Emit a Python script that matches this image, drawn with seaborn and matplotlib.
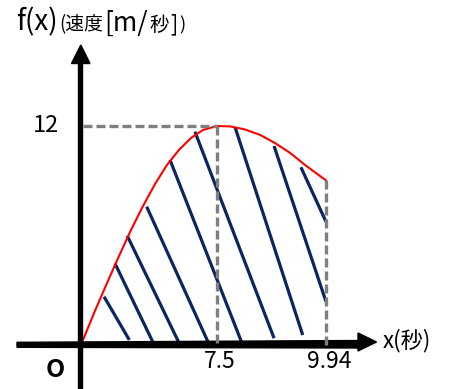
import numpy as np
import pandas as pd
import matplotlib
matplotlib.use("Agg")
import matplotlib.pyplot as plt
import seaborn as sns
from matplotlib.offsetbox import TextArea, HPacker, AnnotationBbox
from matplotlib.patches import Polygon
from matplotlib.lines import Line2D
from matplotlib.transforms import Affine2D

# ---------------- data ----------------
X_CURVE = [0, 0.67, 1.35, 2.02, 2.69, 3.37, 4.04, 4.71, 5.38, 6.06, 6.73, 7.5,
           7.80, 8.13, 8.47, 8.80, 9.14, 9.47, 9.94]
Y_CURVE = [0, 1.63, 3.20, 4.71, 6.17, 7.52, 8.75, 9.82, 10.66, 11.33, 11.78, 12.0,
           11.98, 11.81, 11.50, 11.05, 10.49, 9.82, 8.95]

HATCH_TOP_X = [1.18, 1.79, 2.48, 3.57, 4.88, 6.28, 7.91, 8.78, 9.38]
HATCH_TOP_Y = [2.43, 4.30, 5.85, 7.48, 10.1, 11.68, 11.93, 10.88, 9.69]
HATCH_BOT_X = [2.60, 3.91, 5.38, 7.03, 8.06, 8.78, 9.42, 9.94, 9.94]
HATCH_BOT_Y = [0.0, -0.1, -0.15, -0.15, -0.15, 0.1, 0.28, 2.15, 6.63]

PEAK_X, PEAK_Y = 7.5, 12
END_X, END_Y = 9.94, 8.95
X_TICKS = [7.5, 9.94]
X_TICK_LABELS = ["7.5", "9.94"]
Y_TICKS = [12]
Y_TICK_LABELS = ["12"]

# ---------------- style ----------------
sns.set_theme(style="white")
FONT = ["Noto Sans CJK JP", "DejaVu Sans"]
plt.rcParams["font.family"] = FONT

W, H, DPI = 450, 389, 100
fig = plt.figure(figsize=(W / DPI, H / DPI), dpi=DPI)
fig.patch.set_facecolor("white")
ax = fig.add_axes([0, 0, 1, 1])
ax.set_axis_off()

STRETCH = 2.512  # schematic (non-proportional) x axis beyond the peak


def fwd(x):
    x = np.asarray(x, float)
    return np.where(x <= PEAK_X, x, PEAK_X + (x - PEAK_X) * STRETCH)


def inv(s):
    s = np.asarray(s, float)
    return np.where(s <= PEAK_X, s, PEAK_X + (s - PEAK_X) / STRETCH)


ax.set_xscale("function", functions=(fwd, inv))

NAVY = "#0b2560"
GRAY = "#7f7f7f"

# hatch lines
seg_rows = []
for i, (x1, y1, x2, y2) in enumerate(zip(HATCH_TOP_X, HATCH_TOP_Y, HATCH_BOT_X, HATCH_BOT_Y)):
    seg_rows.append({"x": x1, "y": y1, "seg": i})
    seg_rows.append({"x": x2, "y": y2, "seg": i})
seg_df = pd.DataFrame(seg_rows)
sns.lineplot(data=seg_df, x="x", y="y", units="seg", estimator=None, color=NAVY,
             lw=2.3, ax=ax, zorder=3, solid_capstyle="butt", legend=False)

# curve
curve_df = pd.DataFrame({"x": X_CURVE, "y": Y_CURVE})
sns.lineplot(data=curve_df, x="x", y="y", color="#ff0000", lw=1.5, ax=ax, zorder=4,
             sort=False, legend=False)

# dashed guides
dash_kw = dict(color=GRAY, lw=2.4, dashes=(2.7, 1.2), zorder=6, solid_capstyle="butt",
               dash_capstyle="butt")
ax.plot([0, PEAK_X], [PEAK_Y, PEAK_Y], **dash_kw)
ax.plot([PEAK_X, PEAK_X], [PEAK_Y, -0.2], **dash_kw)
ax.plot([END_X, END_X], [END_Y, -0.5], **dash_kw)

UNIT = 17.83  # pixels per data unit
X0_PX, Y0_PX = 83, 340
ax.set_xlim(float(inv(-X0_PX / UNIT)), float(inv((W - X0_PX) / UNIT)))
ax.set_ylim(-(H - Y0_PX) / UNIT, Y0_PX / UNIT)

# axes arrows, drawn in image pixel coordinates
pix = Affine2D().scale(1, -1).translate(0, H)
ax.add_line(Line2D([80.3, 80.3], [H + 2, 62], lw=5.4 * 72 / DPI, color="black",
                   transform=pix, zorder=5, solid_capstyle="butt", clip_on=False))
ax.add_patch(Polygon([(71.5, 63.5), (90, 63.5), (80.8, 45)], closed=True, color="black",
                     transform=pix, zorder=5, clip_on=False))
ax.add_patch(Polygon([(17, 342.3), (359, 340.5), (359, 348), (17, 347.3)], closed=True,
                     color="black", transform=pix, zorder=5, clip_on=False))
ax.add_patch(Polygon([(358, 333), (376.5, 342), (358, 351)], closed=True, color="black",
                     transform=pix, zorder=5, clip_on=False))

# tick labels
for t, lbl in zip(Y_TICKS, Y_TICK_LABELS):
    ax.annotate(lbl, xy=(0, t), xytext=(-23.7, -6.3), textcoords="offset pixels",
                ha="right", va="baseline", fontsize=17, color="black")
for t, lbl in zip(X_TICKS, X_TICK_LABELS):
    ax.annotate(lbl, xy=(t, 0), xytext=(3, -28), textcoords="offset pixels",
                ha="center", va="baseline", fontsize=16.5, color="black")
ax.annotate("O", xy=(0, 0), xytext=(-27.5, -37), textcoords="offset pixels",
            ha="center", va="baseline", fontsize=18, fontweight="bold", color="black")

# axis titles
ax.text(383, 347, "x(秒)", transform=pix, ha="left", va="baseline", fontsize=16,
        color="black")

pieces = [("f(x)", 20), ("(速度", 13.5), ("[m/", 19), ("秒", 14), ("]", 15.5), (")", 13)]
areas = [TextArea(s, textprops=dict(fontsize=fs, color="black", family=FONT))
         for s, fs in pieces]
packer = HPacker(children=areas, align="baseline", pad=0, sep=1)
ab = AnnotationBbox(packer, (16, 37.5), xycoords=pix, box_alignment=(0, 0),
                    frameon=False, pad=0)
ax.add_artist(ab)

fig.savefig("out.png", dpi=DPI, facecolor="white")
